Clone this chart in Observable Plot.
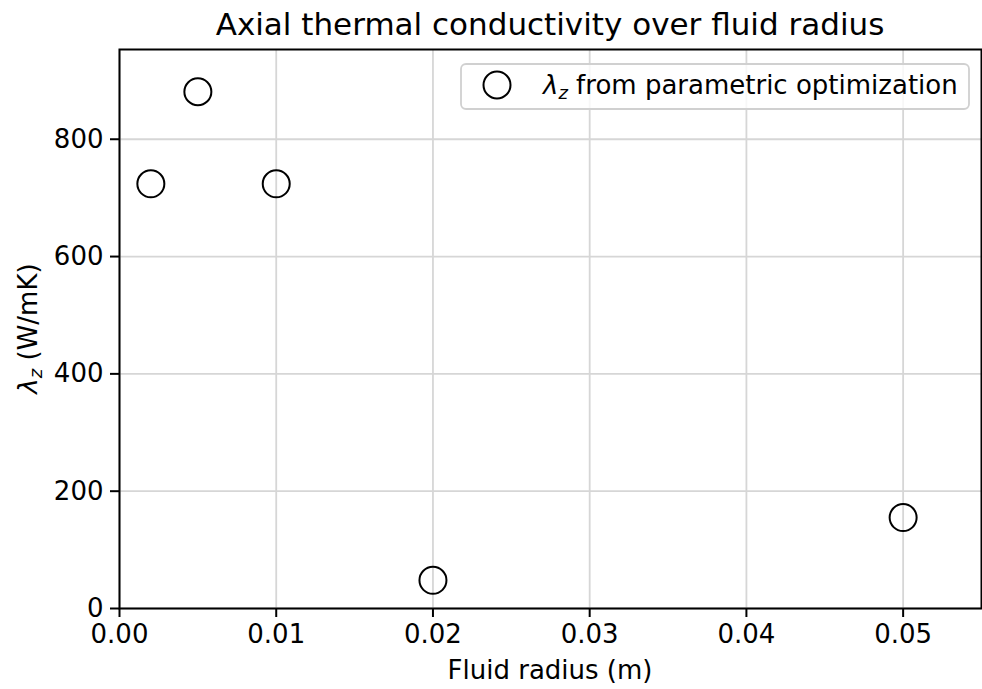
<!DOCTYPE html>
<html>
<head>
<meta charset="utf-8">
<script src="https://cdn.jsdelivr.net/npm/d3@7"></script>
<script src="https://cdn.jsdelivr.net/npm/@observablehq/plot@0.6"></script>
<style>
  html, body { margin: 0; padding: 0; background: white; }
  #chart { width: 982px; height: 689px; }
</style>
</head>
<body>
<div id="chart"></div>
<script>
const radius = [0.002, 0.005, 0.01, 0.02, 0.05];
const lambdaZ = [724, 881, 724, 48, 155];
const xTicks = [0, 0.01, 0.02, 0.03, 0.04, 0.05];
const yTicks = [0, 200, 400, 600, 800];
const titleText = "Axial thermal conductivity over fluid radius";
const xLabel = "Fluid radius (m)";
const legendLabel = " from parametric optimization";

const data = radius.map((r, i) => ({r, v: lambdaZ[i]}));

const W = 982, H = 689;
const mL = 119, mR = 1, mT = 49, mB = 81;
const font = "DejaVu Sans";

const plot = Plot.plot({
  width: W, height: H,
  marginLeft: mL, marginRight: mR, marginTop: mT, marginBottom: mB,
  style: {fontFamily: font, fontSize: "26px", color: "black", background: "white", overflow: "visible"},
  x: {domain: [0, 0.055]},
  y: {domain: [0, 953]},
  marks: [
    Plot.gridX(xTicks, {stroke: "#d6d6d6", strokeOpacity: 1, strokeWidth: 1.8}),
    Plot.gridY(yTicks, {stroke: "#d6d6d6", strokeOpacity: 1, strokeWidth: 1.8}),
    Plot.axisX(xTicks, {tickFormat: d3.format(".2f"), tickSize: 9, tickPadding: 7, strokeWidth: 2, label: null, fontSize: 26}),
    Plot.axisY(yTicks, {tickFormat: d => String(d), tickSize: 9, tickPadding: 7, strokeWidth: 2, label: null, fontSize: 26}),
    Plot.dot(data, {x: "r", y: "v", r: 13.5, stroke: "black", strokeWidth: 2, fill: "none"}),
    Plot.frame({stroke: "black", strokeWidth: 2})
  ]
});

document.getElementById("chart").appendChild(plot);

const svg = d3.select(plot);
const cx = (mL + (W - mR)) / 2;

svg.append("text")
  .attr("x", cx).attr("y", 35)
  .attr("text-anchor", "middle")
  .attr("font-family", font).attr("font-size", 31).attr("fill", "black")
  .text(titleText);

svg.append("text")
  .attr("x", cx).attr("y", 679)
  .attr("text-anchor", "middle")
  .attr("font-family", font).attr("font-size", 26).attr("fill", "black")
  .text(xLabel);

const yl = svg.append("text")
  .attr("transform", `translate(37,${(mT + (H - mB)) / 2}) rotate(-90)`)
  .attr("text-anchor", "middle")
  .attr("font-family", font).attr("font-size", 26).attr("fill", "black");
yl.append("tspan").attr("font-style", "italic").text("λ");
yl.append("tspan").attr("font-style", "italic").attr("font-size", 18).attr("dy", 5).text("z");
yl.append("tspan").attr("dy", -5).text(" (W/mK)");

// legend
const lg = svg.append("g");
lg.append("rect")
  .attr("x", 461).attr("y", 64).attr("width", 508).attr("height", 45)
  .attr("rx", 5).attr("fill", "white").attr("fill-opacity", 0.8)
  .attr("stroke", "#d0d0d0").attr("stroke-width", 1.8);
lg.append("circle")
  .attr("cx", 497).attr("cy", 85).attr("r", 13.5)
  .attr("fill", "none").attr("stroke", "black").attr("stroke-width", 2);
const lt = lg.append("text")
  .attr("x", 543).attr("y", 94)
  .attr("text-anchor", "start")
  .attr("font-family", font).attr("font-size", 26).attr("fill", "black");
lt.append("tspan").attr("font-style", "italic").text("λ");
lt.append("tspan").attr("font-style", "italic").attr("font-size", 18).attr("dy", 5).text("z");
lt.append("tspan").attr("dy", -5).text(legendLabel);
</script>
</body>
</html>
